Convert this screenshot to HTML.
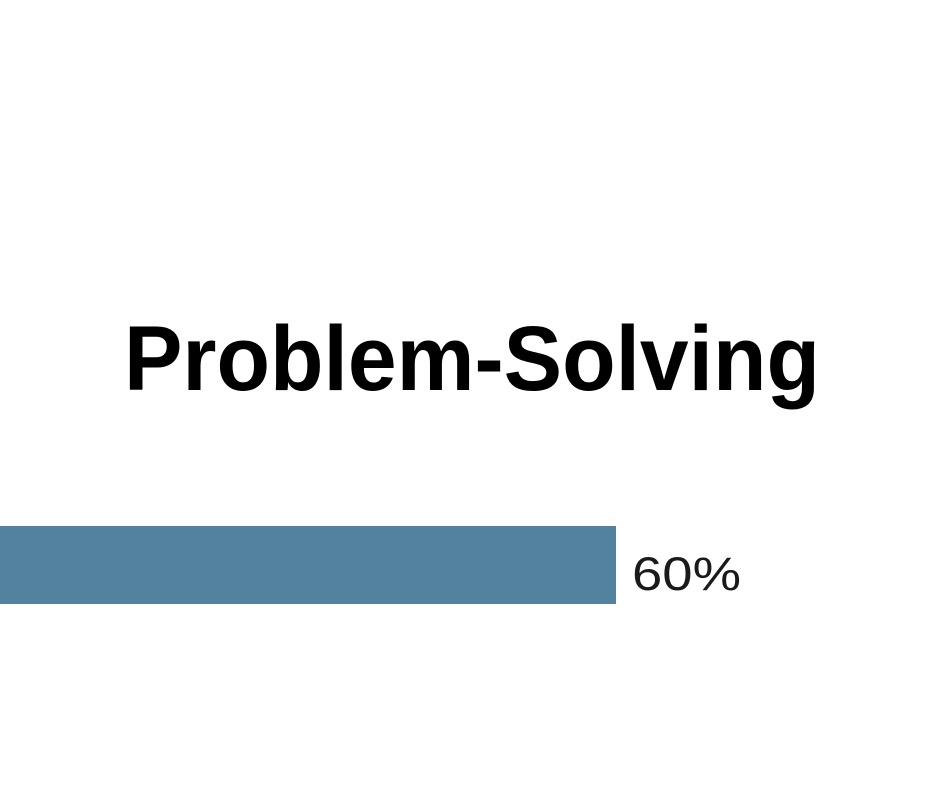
<!DOCTYPE html>
<html>
<head>
<meta charset="utf-8">
<style>
  html, body { margin: 0; padding: 0; background: #ffffff; }
  body { width: 940px; height: 788px; overflow: hidden; }
  svg { display: block; }
</style>
</head>
<body>
<svg id="chart" width="940" height="788" viewBox="0 0 940 788">
  <rect x="0" y="0" width="940" height="788" fill="#ffffff"></rect>
  <text x="124" y="390" font-family="'Liberation Sans', sans-serif" font-weight="bold" font-size="92" fill="#000000" textLength="696" lengthAdjust="spacingAndGlyphs">Problem-Solving</text>
  <g id="bars"></g>
</svg>
<script>
const categories = ["Problem-Solving"];
const values = [60];
const valueLabels = ["60%"];

const svg = document.getElementById('chart');
const g = document.getElementById('bars');
const xScale = v => v * (616 / 60);
const barY = 526, barH = 78;

values.forEach((v, i) => {
  const r = document.createElementNS('http://www.w3.org/2000/svg', 'rect');
  r.setAttribute('x', 0);
  r.setAttribute('y', barY);
  r.setAttribute('width', xScale(v));
  r.setAttribute('height', barH);
  r.setAttribute('fill', '#53829f');
  
  
  g.appendChild(r);

  const t = document.createElementNS('http://www.w3.org/2000/svg', 'text');
  t.setAttribute('x', xScale(v) + 16);
  t.setAttribute('y', 590);
  t.setAttribute('font-family', "'Liberation Sans', sans-serif");
  t.setAttribute('font-size', '47');
  t.setAttribute('fill', '#1a1a1a');
  t.setAttribute('textLength', '109');
  t.setAttribute('lengthAdjust', 'spacingAndGlyphs');
  t.textContent = valueLabels[i];
  
  
  g.appendChild(t);
});
</script>
</body>
</html>
